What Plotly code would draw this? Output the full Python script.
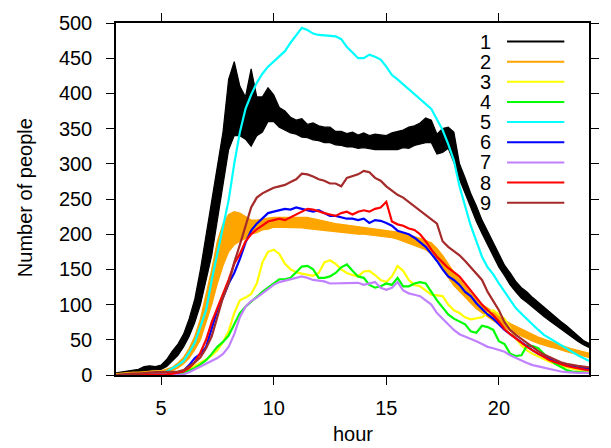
import plotly.graph_objects as go

# ---------------- data ----------------
hours = [3 + 0.25 * i for i in range(85)]          # 3.00 .. 24.00 every 15 min

# series 1 and 2 are very noisy: stored as the low / high edge of the band
s1_lo = [0, 1, 1, 2, 3, 5, 7, 7,
         8, 12, 20, 28, 40, 55, 75, 100,
         135, 170, 220, 270, 320, 340, 340, 335,
         325, 340, 345, 360, 360, 352, 348, 344,
         342, 338, 337, 334, 333, 330, 330, 327,
         326, 324, 324, 322, 323, 321, 320, 320,
         320, 321, 320, 323, 322, 326, 328, 330,
         330, 314, 316, 322, 302, 278, 258, 238,
         218, 201, 185, 171, 153, 141, 128, 118,
         109, 103, 96, 89, 83, 77, 71, 65,
         60, 54, 48, 43, 39]
s1_hi = [3, 4, 5, 6, 8, 12, 13, 12,
         14, 22, 34, 44, 58, 80, 108, 150,
         200, 250, 300, 345, 420, 445, 410, 395,
         435, 395, 395, 408, 398, 380, 375, 366,
         362, 364, 356, 358, 354, 352, 352, 346,
         346, 343, 345, 341, 344, 340, 342, 341,
         340, 344, 346, 348, 352, 354, 358, 365,
         362, 342, 350, 352, 345, 300, 280, 258,
         240, 220, 204, 188, 172, 156, 145, 133,
         124, 118, 110, 103, 96, 89, 82, 76,
         70, 63, 55, 49, 45]

s2_lo = [0, 0, 1, 1, 1, 2, 2, 3,
         3, 4, 6, 10, 16, 24, 36, 50,
         75, 100, 130, 155, 175, 185, 190, 194,
         200, 202, 206, 207, 210, 210, 210, 210,
         209, 209, 208, 207, 206, 205, 204, 204,
         203, 202, 201, 200, 200, 199, 199, 198,
         197, 195, 193, 190, 188, 185, 182, 178,
         172, 162, 150, 138, 127, 119, 110, 102,
         94, 88, 82, 77, 72, 67, 63, 59,
         55, 51, 48, 45, 42, 40, 38, 35,
         33, 31, 29, 27, 25]
s2_hi = [2, 3, 3, 4, 4, 5, 5, 6,
         6, 8, 11, 17, 25, 38, 55, 80,
         115, 150, 190, 215, 228, 232, 230, 225,
         220, 220, 222, 223, 224, 224, 224, 223,
         224, 224, 224, 222, 220, 218, 216, 215,
         214, 213, 212, 211, 210, 209, 208, 207,
         206, 205, 203, 201, 199, 197, 194, 191,
         188, 180, 170, 158, 146, 136, 126, 116,
         108, 100, 95, 89, 83, 78, 73, 69,
         65, 61, 57, 54, 51, 48, 45, 42,
         40, 37, 35, 33, 31]

s3 = [0, 0, 0, 0, 0, 1, 1, 1,
      1, 2, 2, 4, 6, 9, 13, 17,
      22, 28, 35, 47, 62, 88, 106, 110,
      115, 130, 160, 175, 178, 172, 158, 150,
      146, 144, 142, 141, 145, 160, 163, 158,
      150, 145, 142, 140, 147, 148, 142, 135,
      132, 140, 155, 148, 135, 128, 126, 120,
      114, 113, 112, 100, 92, 88, 82, 79,
      80, 82, 88, 92, 86, 80, 66, 52,
      42, 35, 30, 26, 23, 19, 16, 13,
      11, 9, 7, 6, 5]

s4 = [0, 0, 0, 0, 0, 0, 0, 0,
      0, 0, 0, 1, 3, 6, 10, 15,
      21, 30, 40, 47, 56, 72, 88, 97,
      104, 112, 118, 124, 130, 136, 136, 138,
      146, 154, 155, 150, 138, 138, 140, 145,
      153, 157, 148, 140, 138, 128, 124, 126,
      130, 128, 138, 126, 126, 130, 132, 130,
      118, 106, 96, 86, 80, 76, 72, 62,
      60, 70, 68, 64, 48, 44, 30, 27,
      28, 42, 41, 38, 30, 22, 16, 12,
      7, 5, 4, 3, 3]

s5 = [0, 0, 0, 0, 1, 1, 2, 2,
      3, 5, 9, 14, 20, 32, 46, 70,
      92, 135, 172, 212, 248, 300, 345, 378,
      398, 415, 428, 438, 445, 452, 460, 472,
      482, 493, 490, 485, 483, 482, 482, 481,
      477, 466, 458, 450, 450, 455, 452, 448,
      438, 426, 420, 413, 407, 400, 393, 386,
      378, 363, 348, 328, 305, 268, 238, 212,
      190, 168, 153, 143, 130, 118, 106, 95,
      87, 79, 72, 64, 57, 52, 47, 43,
      38, 33, 28, 24, 20]

s6 = [0, 0, 0, 0, 0, 0, 1, 1,
      1, 1, 2, 3, 6, 14, 24, 30,
      40, 65, 92, 110, 130, 145, 165, 188,
      205, 215, 222, 230, 232, 234, 236, 235,
      238, 236, 234, 232, 234, 230, 226, 226,
      224, 222, 222, 220, 222, 216, 220, 219,
      216, 212, 205, 203, 200, 195, 188, 182,
      172, 162, 150, 140, 135, 128, 118, 112,
      102, 94, 86, 80, 72, 64, 58, 52,
      46, 40, 35, 30, 26, 22, 19, 16,
      14, 12, 11, 10, 9]

s7 = [0, 0, 0, 0, 0, 0, 0, 0,
      0, 0, 0, 0, 1, 4, 8, 12,
      16, 20, 24, 30, 40, 58, 82, 97,
      105, 110, 116, 122, 128, 132, 134, 135,
      137, 140, 138, 135, 134, 133, 130, 130,
      131, 130, 130, 131, 128, 130, 132, 124,
      121, 124, 132, 120, 116, 114, 112, 106,
      100, 88, 80, 72, 64, 58, 55, 52,
      48, 44, 40, 38, 36, 33, 28, 24,
      20, 17, 14, 12, 10, 8, 6, 5,
      4, 3, 3, 3, 3]

s8 = [0, 0, 0, 0, 0, 0, 1, 1,
      1, 1, 2, 3, 5, 10, 18, 32,
      50, 75, 95, 115, 135, 158, 172, 190,
      200, 207, 212, 218, 220, 222, 220, 224,
      228, 232, 236, 235, 232, 230, 228, 226,
      230, 232, 228, 232, 234, 232, 236, 238,
      246, 218, 214, 212, 208, 206, 200, 190,
      178, 168, 160, 152, 146, 140, 130, 120,
      110, 100, 92, 85, 76, 65, 58, 52,
      45, 40, 35, 30, 25, 21, 18, 15,
      13, 11, 9, 8, 7]

s9 = [0, 1, 1, 2, 2, 3, 4, 4,
      4, 4, 4, 5, 7, 12, 18, 25,
      38, 55, 82, 110, 130, 160, 185, 210,
      238, 252, 258, 262, 266, 268, 270, 274,
      278, 286, 285, 282, 278, 276, 272, 272,
      268, 280, 282, 285, 290, 288, 280, 276,
      268, 262, 256, 252, 246, 240, 234, 228,
      222, 215, 190, 182, 176, 170, 162, 153,
      145, 135, 118, 104, 92, 75, 64, 57,
      51, 45, 40, 34, 29, 25, 21, 18,
      16, 14, 13, 12, 11]

series_names = ["1", "2", "3", "4", "5", "6", "7", "8", "9"]
colors = ["#000000", "#ffa500", "#ffff00", "#00ff00", "#00ffff",
          "#0000ff", "#c080ff", "#ff0000", "#a52a2a"]
band_series = {"1": (s1_lo, s1_hi), "2": (s2_lo, s2_hi)}
line_series = {"3": s3, "4": s4, "5": s5, "6": s6, "7": s7, "8": s8, "9": s9}

x_ticks = [5, 10, 15, 20]
y_ticks = [0, 50, 100, 150, 200, 250, 300, 350, 400, 450, 500]

# ---------------- figure ----------------
FONT = "Liberation Sans, Arial, Helvetica, sans-serif"
fig = go.Figure()
for name, col in zip(series_names, colors):
    if name in band_series:
        lo, hi = band_series[name]
        fig.add_trace(go.Scatter(x=hours, y=lo, mode="lines", name=name,
                                 line=dict(color=col, width=1.2), showlegend=False))
        fig.add_trace(go.Scatter(x=hours, y=hi, mode="lines", name=name,
                                 line=dict(color=col, width=1.2), fill="tonexty",
                                 fillcolor=col, showlegend=False))
    else:
        fig.add_trace(go.Scatter(x=hours, y=line_series[name], mode="lines", name=name,
                                 line=dict(color=col, width=2.2), showlegend=False))

# gnuplot-style legend: label on the left, line sample on the right
shapes = []
annotations = []
row_top = 0.9472   # paper-y of first legend row
row_step = 0.0572
for i, (name, col) in enumerate(zip(series_names, colors)):
    yy = row_top - i * row_step
    annotations.append(dict(x=0.7975, y=yy, xref="paper", yref="paper",
                            text=name, showarrow=False, xanchor="right",
                            yanchor="middle", font=dict(size=20, color="black", family=FONT)))
    shapes.append(dict(type="line", xref="paper", yref="paper",
                       x0=0.8267, x1=0.9478, y0=yy, y1=yy,
                       line=dict(color=col, width=2)))

annotations.append(dict(x=-0.192, y=0.503, xref="paper", yref="paper",
                        text="Number of people", textangle=-90, showarrow=False,
                        xanchor="center", yanchor="middle",
                        font=dict(size=20, color="black", family=FONT)))
annotations.append(dict(x=0.5, y=-0.169, xref="paper", yref="paper",
                        text="hour", showarrow=False,
                        xanchor="center", yanchor="middle",
                        font=dict(size=20, color="black", family=FONT)))

axis_common = dict(showgrid=False, zeroline=False, showline=True,
                   linecolor="black", linewidth=1.5, mirror="ticks",
                   ticks="outside", ticklen=8, tickwidth=1, tickcolor="black",
                   tickfont=dict(size=20, color="black", family=FONT))

fig.update_layout(
    width=611, height=448, autosize=False,
    margin=dict(l=116, r=16, t=15, b=73),
    paper_bgcolor="white", plot_bgcolor="white",
    font=dict(family=FONT, size=20, color="black"),
    xaxis=dict(range=[3, 24], tickvals=x_ticks, ticklabelstandoff=6, **axis_common),
    yaxis=dict(range=[0, 500], tickvals=y_ticks, ticklabelstandoff=10, **axis_common),
    shapes=shapes, annotations=annotations,
)

fig.write_html("out.html", config={"displayModeBar": False},
               post_script="document.body.style.margin='0';document.body.style.overflow='hidden';")
